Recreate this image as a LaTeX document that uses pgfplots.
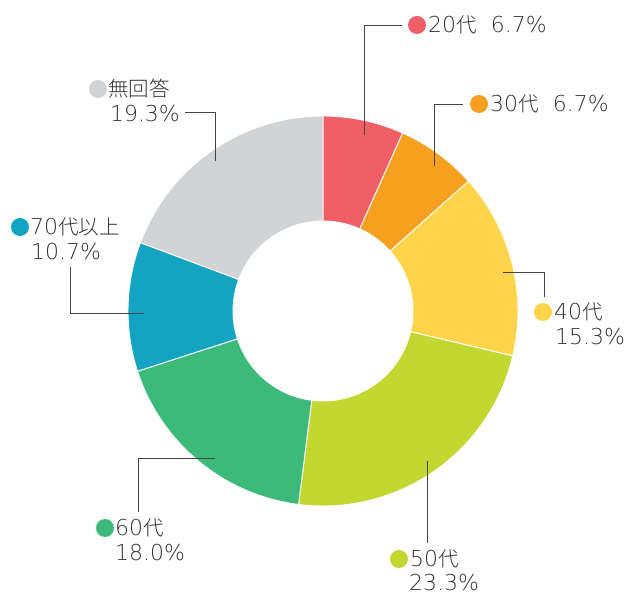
\documentclass[border=0pt]{standalone}
\usepackage{pgfplots}
\pgfplotsset{compat=1.18}
\usepackage{pgfplotstable}
\usepackage{fontspec}
\IfFontExistsTF{Noto Sans CJK JP Light}{\setmainfont{Noto Sans CJK JP Light}}{\setmainfont{Noto Sans CJK JP}}
\newfontfamily\lat{DejaVu Sans ExtraLight}[Scale=1.07]
\definecolor{c20}{HTML}{F05E66}
\definecolor{c30}{HTML}{F79F1F}
\definecolor{c40}{HTML}{FDD44A}
\definecolor{c50}{HTML}{C2D72F}
\definecolor{c60}{HTML}{3CBA7A}
\definecolor{c70}{HTML}{13A4C2}
\definecolor{cna}{HTML}{D2D3D5}
\definecolor{txt}{HTML}{333333}
\definecolor{lead}{HTML}{444444}
\pgfplotstableread{
label value col
20 6.7 c20
30 6.7 c30
40 15.3 c40
50 23.3 c50
60 18.0 c60
70 10.7 c70
NA 19.3 cna
}\piedata
\newcommand\LT[1]{{\lat #1}}
\begin{document}
\begin{tikzpicture}
\begin{axis}[
  width=630pt, height=595pt, scale only axis,
  xmin=0, xmax=630, ymin=0, ymax=595,
  hide axis, clip=false,
]
\path (axis cs:0,0) rectangle (axis cs:630,595);
\pgfplotsextra{
  \gdef\startang{90}
  \foreach \i in {0,...,6} {
    \pgfplotstablegetelem{\i}{value}\of\piedata
    \let\v\pgfplotsretval
    \pgfplotstablegetelem{\i}{col}\of\piedata
    \let\c\pgfplotsretval
    \pgfmathsetmacro\endang{\startang-3.6*\v}
    \filldraw[fill=\c, draw=white, line width=0.9pt]
      ([shift={(\startang:195)}]axis cs:323,284)
      arc[start angle=\startang, end angle=\endang, radius=195]
      -- ([shift={(\endang:90)}]axis cs:323,284)
      arc[start angle=\endang, end angle=\startang, radius=90]
      -- cycle;
    \xdef\startang{\endang}
  }
}
% leader lines
\draw[lead, line width=0.9pt] (axis cs:364,460) -- (axis cs:364,570) -- (axis cs:402,570);
\draw[lead, line width=0.9pt] (axis cs:434,429) -- (axis cs:434,491) -- (axis cs:463,491);
\draw[lead, line width=0.9pt] (axis cs:503,323) -- (axis cs:544,323) -- (axis cs:544,298);
\draw[lead, line width=0.9pt] (axis cs:427,134) -- (axis cs:427,52);
\draw[lead, line width=0.9pt] (axis cs:215,137) -- (axis cs:138,137) -- (axis cs:138,83);
\draw[lead, line width=0.9pt] (axis cs:144,282) -- (axis cs:70,282) -- (axis cs:70,328);
\draw[lead, line width=0.9pt] (axis cs:185,483) -- (axis cs:215,483) -- (axis cs:215,434);
% dots
\fill[c20] (axis cs:417,570) circle[radius=9];
\fill[c30] (axis cs:479,491) circle[radius=9];
\fill[c40] (axis cs:543,283) circle[radius=9];
\fill[c50] (axis cs:399,36) circle[radius=9];
\fill[c60] (axis cs:105,67) circle[radius=9];
\fill[c70] (axis cs:20,368) circle[radius=9];
\fill[cna] (axis cs:98,506) circle[radius=9];
% labels
\tikzset{lbl/.style={text=txt, inner sep=0pt, font=\fontsize{20.5}{25}\selectfont}}
\node[lbl, anchor=west] at (axis cs:428,570) {\LT{20}代\hspace{0.7em}\LT{6.7\%}};
\node[lbl, anchor=west] at (axis cs:490,491) {\LT{30}代\hspace{0.7em}\LT{6.7\%}};
\node[lbl, anchor=west] at (axis cs:554,283) {\LT{40}代};
\node[lbl, anchor=west] at (axis cs:555,258) {\LT{15.3\%}};
\node[lbl, anchor=west] at (axis cs:410,36) {\LT{50}代};
\node[lbl, anchor=west] at (axis cs:409,12) {\LT{23.3\%}};
\node[lbl, anchor=west] at (axis cs:115,67) {\LT{60}代};
\node[lbl, anchor=west] at (axis cs:115,42) {\LT{18.0\%}};
\node[lbl, anchor=west] at (axis cs:30,368) {\LT{70}代以上};
\node[lbl, anchor=west] at (axis cs:31,343) {\LT{10.7\%}};
\node[lbl, anchor=west] at (axis cs:108,506) {無回答};
\node[lbl, anchor=east] at (axis cs:180,481) {\LT{19.3\%}};
\end{axis}
\end{tikzpicture}
\end{document}
